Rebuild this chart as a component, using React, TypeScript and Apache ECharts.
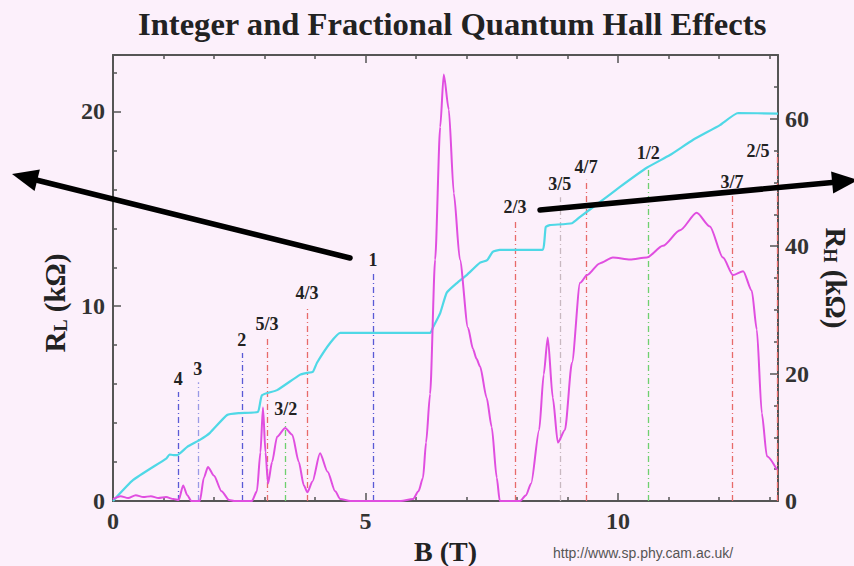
import React, { useEffect, useRef } from "react";
import * as echarts from "echarts";

// Longitudinal resistance R_L (kΩ) vs B (T)
const rlB = [0, 0.15, 0.3, 0.45, 0.6, 0.75, 0.9, 1.05, 1.2, 1.3, 1.39, 1.47, 1.55, 1.72, 1.8, 1.88, 2.0, 2.15, 2.3, 2.4, 2.75, 2.85, 2.92, 2.97, 3.02, 3.07, 3.15, 3.25, 3.41, 3.55, 3.68, 3.78, 3.85, 3.95, 4.1, 4.25, 4.4, 4.5, 4.7, 5.7, 5.94, 6.05, 6.14, 6.2, 6.28, 6.38, 6.48, 6.55, 6.65, 6.75, 6.87, 7.03, 7.13, 7.2, 7.27, 7.4, 7.5, 7.6, 7.66, 8.06, 8.18, 8.28, 8.44, 8.53, 8.61, 8.71, 8.81, 8.95, 9.09, 9.25, 9.39, 9.64, 9.9, 10.24, 10.57, 10.89, 11.23, 11.56, 11.82, 12.08, 12.28, 12.48, 12.65, 12.75, 12.85, 12.95, 13.15];
const rlVal = [0.1, 0.25, 0.15, 0.3, 0.2, 0.25, 0.15, 0.2, 0.1, 0.05, 0.8, 0.3, 0, 0, 1.2, 1.75, 1.3, 0.5, 0.05, 0, 0, 0.5, 2.5, 4.8, 2.5, 0.9, 2.0, 3.3, 3.75, 3.4, 2.0, 0.8, 0.45, 1.0, 2.45, 1.5, 0.5, 0.1, 0, 0, 0.1, 0.5, 1.2, 3.0, 5.5, 12.4, 19.2, 21.9, 20.1, 15.8, 12.4, 8.9, 7.8, 7.3, 6.9, 5.3, 3.8, 1.2, 0, 0, 0.3, 0.9, 3.65, 6.5, 8.4, 5.3, 3.0, 3.65, 7.1, 11.2, 11.6, 12.2, 12.5, 12.4, 12.5, 13.1, 13.9, 14.8, 14.1, 12.5, 11.6, 11.8, 10.8, 8.8, 4.5, 2.3, 1.6];

// Hall resistance R_H (kΩ) vs B (T)
const rhB = [0, 0.4, 1.06, 1.12, 1.2, 1.27, 1.47, 1.72, 1.92, 2.26, 2.51, 2.87, 2.95, 3.25, 3.7, 3.84, 3.96, 4.04, 4.3, 4.5, 6.28, 6.34, 6.48, 6.61, 6.81, 7.01, 7.27, 7.41, 7.52, 7.66, 8.5, 8.57, 8.65, 9.09, 9.25, 9.64, 10.04, 10.57, 11.03, 11.49, 12.02, 12.38, 13.17];
const rhVal = [0, 3.3, 6.7, 7.3, 7.2, 7.2, 8.5, 9.6, 10.7, 13.5, 13.8, 14.0, 16.6, 17.4, 19.8, 20.1, 20.3, 21.7, 24.8, 26.4, 26.4, 27.3, 29.5, 32.7, 34.2, 35.5, 37.4, 37.8, 39.1, 39.4, 39.4, 43.0, 43.3, 43.6, 44.6, 46.9, 49.3, 52.3, 54.3, 56.7, 59.0, 60.9, 60.8];

// Filling-factor markers
const nuLabels = ["4", "3", "2", "5/3", "3/2", "4/3", "1", "2/3", "3/5", "4/7", "1/2", "3/7", "2/5"];
const nuB = [1.29, 1.68, 2.55, 3.05, 3.42, 3.84, 5.15, 7.96, 8.85, 9.37, 10.6, 12.26, 13.15];
const nuTop = [5.6, 6.1, 7.6, 8.4, 4.06, 10.0, 11.7, 14.45, 15.6, 16.5, 17.2, 15.7, 18.0];
const nuKind = ["int", "int2", "int", "frac", "half", "frac", "int", "frac", "other", "frac", "half", "frac", "frac"];

const xTicks = [0, 5, 10];
const leftTicks = [0, 10, 20];
const rightTicks = [0, 20, 40, 60];

const kindColor: Record<string, string> = {
  int: "#5a5ad6",
  int2: "#9a9ae6",
  frac: "#e86a6a",
  half: "#6fd06f",
  other: "#c8b8c0",
};

const SERIF = "'Liberation Serif', 'DejaVu Serif', serif";

function arrow(x1: number, y1: number, x2: number, y2: number) {
  const dx = x2 - x1, dy = y2 - y1;
  const len = Math.sqrt(dx * dx + dy * dy);
  const ux = dx / len, uy = dy / len;
  const hl = 26, hw = 11;
  const bx = x2 - ux * hl, by = y2 - uy * hl;
  const nx = -uy, ny = ux;
  return [
    { type: "line", z: 100, shape: { x1, y1, x2: bx, y2: by }, style: { stroke: "#000", lineWidth: 5.5, lineCap: "round" } },
    { type: "polygon", z: 100, shape: { points: [[x2, y2], [bx + nx * hw, by + ny * hw], [bx - nx * hw, by - ny * hw]] }, style: { fill: "#000" } },
  ];
}

export default function App() {
  const ref = useRef<HTMLDivElement>(null);
  useEffect(() => {
    if (!ref.current) return;
    const chart = echarts.init(ref.current, null, { renderer: "svg" });
    const xMax = 13.17;
    const axisLineStyle = { color: "#555", width: 2 };
    const tickStyle = { color: "#555", width: 1.5 };
    const labelStyle = { fontFamily: SERIF, fontWeight: "bold" as const, fontSize: 24, color: "#333" };
    const nameRich = {
      r: { fontFamily: SERIF, fontWeight: "bold", fontSize: 29, color: "#222" },
      s: { fontFamily: SERIF, fontWeight: "bold", fontSize: 18, color: "#222", verticalAlign: "bottom", padding: [12, 0, 0, 0] },
    };
    const markData = nuLabels.map((name, i) => {
      const c = kindColor[nuKind[i]];
      const last = i === nuLabels.length - 1;
      return [
        {
          name,
          coord: [nuB[i], 0],
          lineStyle: { color: c, type: [6, 3, 1, 3], width: 1.3 },
          label: { offset: last ? [-19, 14] : [0, 0] },
        },
        { coord: [nuB[i], nuTop[i]] },
      ];
    });
    chart.setOption({
      animation: false,
      backgroundColor: "#fcf0fb",
      title: {
        text: "Integer and Fractional Quantum Hall Effects",
        left: 133,
        top: 2,
        textStyle: { fontFamily: SERIF, fontWeight: "bold", fontSize: 32.6, color: "#222" },
      },
      grid: { left: 113, right: 76, top: 55, bottom: 65, containLabel: false, outerBoundsMode: "none" },
      xAxis: [
        {
          type: "value",
          min: 0,
          max: xMax,
          interval: 5,
          position: "bottom",
          name: "B (T)",
          nameLocation: "middle",
          nameGap: 31,
          nameTextStyle: { fontFamily: SERIF, fontWeight: "bold", fontSize: 28, color: "#222" },
          axisLine: { onZero: false, lineStyle: axisLineStyle },
          axisTick: { inside: true, length: 8, lineStyle: tickStyle },
          minorTick: { show: true, splitNumber: 5, length: 4, lineStyle: tickStyle },
          splitLine: { show: false },
          axisLabel: {
            ...labelStyle,
            margin: 8,
            formatter: (v: number) => (xTicks.includes(v) ? String(v) : ""),
          },
        },
        {
          type: "value",
          min: 0,
          max: xMax,
          interval: 5,
          position: "top",
          axisLine: { show: true, onZero: false, lineStyle: axisLineStyle },
          axisTick: { show: true, inside: true, length: 8, lineStyle: tickStyle },
          minorTick: { show: true, splitNumber: 5, length: 4, lineStyle: tickStyle },
          splitLine: { show: false },
          axisLabel: { show: false },
        },
      ],
      yAxis: [
        {
          type: "value",
          min: 0,
          max: 22.9,
          interval: 10,
          position: "left",
          name: "{r|R}{s|L}{r| (kΩ)}",
          nameLocation: "middle",
          nameRotate: 90,
          nameGap: 36,
          nameTextStyle: { padding: [0, 50, 0, 0], rich: nameRich },
          axisLine: { show: true, onZero: false, lineStyle: axisLineStyle },
          axisTick: { show: true, inside: true, length: 8, lineStyle: tickStyle },
          minorTick: { show: true, splitNumber: 5, length: 4, lineStyle: tickStyle },
          splitLine: { show: false },
          axisLabel: { ...labelStyle, margin: 8, formatter: (v: number) => (leftTicks.includes(v) ? String(v) : "") },
        },
        {
          type: "value",
          min: 0,
          max: 70,
          interval: 20,
          position: "right",
          name: "{r|R}{s|H}{r| (kΩ)}",
          nameLocation: "middle",
          nameRotate: -90,
          nameGap: 43,
          nameTextStyle: { rich: nameRich },
          axisLine: { show: true, onZero: false, lineStyle: axisLineStyle },
          axisTick: { show: true, inside: true, length: 8, lineStyle: tickStyle },
          minorTick: { show: true, splitNumber: 4, length: 4, lineStyle: tickStyle },
          splitLine: { show: false },
          axisLabel: { ...labelStyle, margin: 7, formatter: (v: number) => (rightTicks.includes(v) ? String(v) : "") },
        },
      ],
      series: [
        {
          name: "ν",
          type: "line",
          xAxisIndex: 0,
          yAxisIndex: 0,
          data: [],
          silent: true,
          markLine: {
            silent: true,
            z: 1,
            symbol: ["none", "none"],
            label: {
              show: true,
              position: "end",
              formatter: "{b}",
              fontFamily: SERIF,
              fontWeight: "bold",
              fontSize: 18,
              color: "#222",
              distance: 4,
            },
            data: markData,
          },
        },
        {
          name: "R_H",
          type: "line",
          xAxisIndex: 0,
          yAxisIndex: 1,
          z: 3,
          showSymbol: false,
          symbol: "none",
          smooth: 0.15,
          lineStyle: { color: "#4fd8e6", width: 2.2 },
          data: rhB.map((b, i) => [b, rhVal[i]]),
        },
        {
          name: "R_L",
          type: "line",
          xAxisIndex: 0,
          yAxisIndex: 0,
          z: 4,
          showSymbol: false,
          symbol: "none",
          smooth: 0.25,
          smoothMonotone: "x",
          lineStyle: { color: "#e04ee0", width: 2 },
          data: rlB.map((b, i) => [b, rlVal[i]]),
        },
      ],
      graphic: [
        ...arrow(350, 258, 12, 174),
        ...arrow(540, 210, 858, 180),
        {
          type: "text",
          left: 553,
          top: 546,
          style: {
            text: "http://www.sp.phy.cam.ac.uk/",
            font: "14px 'Liberation Sans', Arial, sans-serif",
            fill: "#555",
          },
        },
      ],
    });
    return () => chart.dispose();
  }, []);
  return <div ref={ref} style={{ position: "fixed", left: 0, top: 0, width: 854, height: 566 }} />;
}
